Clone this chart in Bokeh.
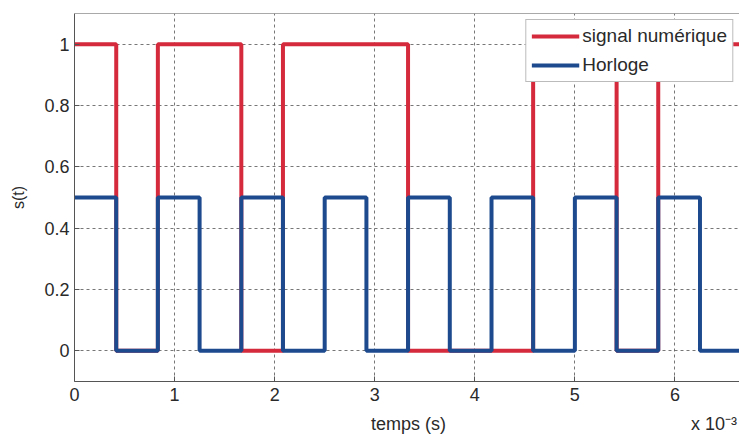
from bokeh.plotting import figure
from bokeh.models import Range1d, FixedTicker, Span, Legend, LegendItem, LinearAxis
from bokeh.embed import file_html
from bokeh.resources import INLINE

# time axis in units of 1e-3 s
clock_edges = [0, 0.417, 0.833, 1.25, 1.667, 2.083, 2.5, 2.917, 3.333, 3.75,
               4.167, 4.583, 5.0, 5.417, 5.833, 6.25, 6.667]
clock_levels = [0.5, 0, 0.5, 0, 0.5, 0, 0.5, 0, 0.5, 0,
                0.5, 0, 0.5, 0, 0.5, 0, 0]

signal_edges = [0, 0.417, 0.833, 1.667, 2.083, 3.333, 4.583, 5.417, 5.833, 6.667]
signal_levels = [1, 0, 1, 0, 1, 0, 1, 0, 1, 1]

x_ticks = [0, 1, 2, 3, 4, 5, 6]
x_tick_labels = ["0", "1", "2", "3", "4", "5", "6"]
y_ticks = [0, 0.2, 0.4, 0.6, 0.8, 1]
y_tick_labels = ["0", "0.2", "0.4", "0.6", "0.8", "1"]

x_title = "temps (s)"
x_scale_note = "x 10⁻³"

RED = "#d42a3c"
BLUE = "#1d4a8e"
FONT = "Liberation Sans"
AX = "#555555"
TXT = "#2a2a2a"

p = figure(width=739, height=436, output_backend="svg", toolbar_location=None,
           x_range=Range1d(0, 6.645), y_range=Range1d(-0.1, 1.1),
           min_border_left=74, min_border_top=13, min_border_bottom=54,
           min_border_right=0)

r_sig = p.step(signal_edges, signal_levels, mode="after", line_color=RED, line_width=4)
r_clk = p.step(clock_edges, clock_levels, mode="after", line_color=BLUE, line_width=4)

p.outline_line_color = None
p.add_layout(Span(location=1.1, dimension="width", line_color=AX, line_width=1))

p.xaxis.ticker = FixedTicker(ticks=x_ticks)
p.yaxis.ticker = FixedTicker(ticks=y_ticks)
p.xgrid.ticker = FixedTicker(ticks=x_ticks)
p.ygrid.ticker = FixedTicker(ticks=y_ticks)
p.xaxis.major_label_overrides = dict(zip(x_ticks, x_tick_labels))
p.yaxis.major_label_overrides = dict(zip(y_ticks, y_tick_labels))

for ax in (p.xaxis, p.yaxis):
    ax.axis_line_color = AX
    ax.major_tick_line_color = AX
    ax.major_tick_in = 5
    ax.major_tick_out = 0
    ax.minor_tick_line_color = None
    ax.major_label_text_font = FONT
    ax.major_label_text_font_size = "18px"
    ax.major_label_text_color = TXT
    ax.axis_label_text_font = FONT
    ax.axis_label_text_font_style = "normal"
    ax.axis_label_text_color = TXT

p.xaxis.major_label_standoff = 6
p.yaxis.axis_label = "s(t)"
p.yaxis.axis_label_text_font_size = "16px"
p.yaxis.major_label_standoff = 5
p.yaxis.axis_label_standoff = 14

# second row below the x axis: axis title and the scale factor
title_pos = [3.337, 6.39]
title_axis = LinearAxis(ticker=FixedTicker(ticks=title_pos),
                        major_label_overrides={title_pos[0]: x_title,
                                               title_pos[1]: x_scale_note})
title_axis.axis_line_color = None
title_axis.major_tick_line_color = None
title_axis.minor_tick_line_color = None
title_axis.major_tick_in = 0
title_axis.major_tick_out = 0
title_axis.major_label_standoff = 10
title_axis.major_label_text_font = FONT
title_axis.major_label_text_font_size = "18px"
title_axis.major_label_text_color = TXT
p.add_layout(title_axis, "below")

for g in (p.xgrid, p.ygrid):
    g.grid_line_color = "#555555"
    g.grid_line_dash = "3 3"
    g.grid_line_width = 1
    g.grid_line_alpha = 0.8

legend = Legend(items=[LegendItem(label="signal numérique", renderers=[r_sig]),
                       LegendItem(label="Horloge", renderers=[r_clk])],
                location="top_right")
legend.label_text_font = FONT
legend.label_text_font_size = "19px"
legend.label_text_color = TXT
legend.border_line_color = "#777777"
legend.border_line_width = 1
legend.background_fill_alpha = 1
legend.margin = 6
legend.padding = 5
legend.spacing = 7
legend.glyph_width = 48
legend.glyph_height = 20
legend.label_height = 20
legend.label_standoff = 3
p.add_layout(legend)

open("out.html", "w").write(file_html(p, INLINE))
